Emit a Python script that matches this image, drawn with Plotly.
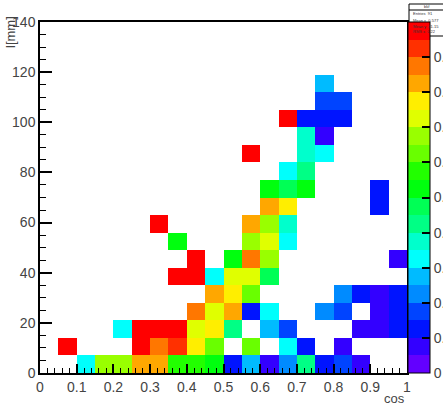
import colorsys
import numpy as np
import plotly.graph_objects as go

# ---------------- data ----------------
cos_bins = [0.025, 0.075, 0.125, 0.175, 0.225, 0.275, 0.325, 0.375, 0.425, 0.475,
            0.525, 0.575, 0.625, 0.675, 0.725, 0.775, 0.825, 0.875, 0.925, 0.975]
l_bins = [3.5, 10.5, 17.5, 24.5, 31.5, 38.5, 45.5, 52.5, 59.5, 66.5,
          73.5, 80.5, 87.5, 94.5, 101.5, 108.5, 115.5, 122.5, 129.5, 136.5]

cell_cos = [
    # l = 3.5
    0.125, 0.175, 0.225, 0.275, 0.325, 0.375, 0.425, 0.475, 0.525, 0.575, 0.625, 0.675, 0.725, 0.775, 0.825, 0.875,
    # l = 10.5
    0.075, 0.275, 0.325, 0.375, 0.425, 0.475, 0.575, 0.675, 0.725, 0.825,
    # l = 17.5
    0.225, 0.275, 0.325, 0.375, 0.425, 0.475, 0.525, 0.625, 0.675, 0.875, 0.925, 0.975,
    # l = 24.5
    0.425, 0.475, 0.525, 0.575, 0.625, 0.775, 0.825, 0.925, 0.975,
    # l = 31.5
    0.475, 0.525, 0.575, 0.825, 0.875, 0.925, 0.975,
    # l = 38.5
    0.375, 0.425, 0.475, 0.525, 0.575, 0.625,
    # l = 45.5
    0.425, 0.525, 0.575, 0.625, 0.975,
    # l = 52.5
    0.375, 0.575, 0.625, 0.675,
    # l = 59.5
    0.325, 0.575, 0.625, 0.675,
    # l = 66.5
    0.625, 0.675, 0.925,
    # l = 73.5
    0.625, 0.675, 0.725, 0.925,
    # l = 80.5
    0.675, 0.725,
    # l = 87.5
    0.575, 0.725, 0.775,
    # l = 94.5
    0.725, 0.775,
    # l = 101.5
    0.675, 0.725, 0.775, 0.825,
    # l = 108.5
    0.775, 0.825,
    # l = 115.5
    0.775,
]
cell_l = (
    [3.5] * 16 + [10.5] * 10 + [17.5] * 12 + [24.5] * 9 + [31.5] * 7 + [38.5] * 6
    + [45.5] * 5 + [52.5] * 4 + [59.5] * 4 + [66.5] * 3 + [73.5] * 4 + [80.5] * 2
    + [87.5] * 3 + [94.5] * 2 + [101.5] * 4 + [108.5] * 2 + [115.5] * 1
)
cell_val = [
    0.33, 0.68, 0.68, 0.83, 0.83, 0.58, 0.58, 0.53, 0.13, 0.28, 0.08, 0.23, 0.43, 0.13, 0.18, 0.08,
    0.98, 0.98, 0.88, 0.93, 0.78, 0.63, 0.63, 0.33, 0.13, 0.08,
    0.33, 0.98, 0.98, 0.98, 0.73, 0.78, 0.43, 0.28, 0.18, 0.08, 0.08, 0.13,
    0.88, 0.73, 0.83, 0.13, 0.33, 0.23, 0.18, 0.08, 0.13,
    0.83, 0.78, 0.63, 0.23, 0.13, 0.08, 0.13,
    0.98, 0.98, 0.33, 0.73, 0.73, 0.48,
    0.98, 0.53, 0.88, 0.68, 0.08,
    0.53, 0.68, 0.73, 0.33,
    0.98, 0.83, 0.68, 0.38,
    0.83, 0.78, 0.13,
    0.53, 0.48, 0.53, 0.13,
    0.33, 0.43,
    0.98, 0.38, 0.33,
    0.38, 0.08,
    0.98, 0.13, 0.13, 0.13,
    0.18, 0.18,
    0.28,
]

x_ticks = [0, 0.1, 0.2, 0.3, 0.4, 0.5, 0.6, 0.7, 0.8, 0.9, 1]
x_ticklabels = ["0", "0.1", "0.2", "0.3", "0.4", "0.5", "0.6", "0.7", "0.8", "0.9", "1"]
y_ticks = [0, 20, 40, 60, 80, 100, 120, 140]
# top palette label is hidden under the statistics box in the reference
z_ticks = [0, 0.1, 0.2, 0.3, 0.4, 0.5, 0.6, 0.7, 0.8, 0.9, 1]
z_ticklabels = ["0", "0.1", "0.2", "0.3", "0.4", "0.5", "0.6", "0.7", "0.8", "0.9", ""]
stat_lines = ["Entries  91", "Mean x  0.577", "Mean y  41.15", "RMS x  0.22"]

# ---------------- grid ----------------
cb = np.array(cos_bins)
lb = np.array(l_bins)
grid = [[None] * len(cos_bins) for _ in l_bins]
for c, l, v in zip(cell_cos, cell_l, cell_val):
    i = int(np.argmin(np.abs(cb - c)))
    j = int(np.argmin(np.abs(lb - l)))
    grid[j][i] = v

# ---------------- ROOT-like "pretty" palette, 20 contours ----------------
ncol, ncont = 50, 20
stops = []
for k in range(ncont):
    idx = int((k + 0.99) * ncol / ncont)
    hue = 280 - (idx + 1) * (280.0 / ncol)
    r, g, b = colorsys.hls_to_rgb(max(hue, 0) / 360.0, 0.5, 1.0)
    col = "rgb(%d,%d,%d)" % (round(r * 255), round(g * 255), round(b * 255))
    stops.append([k / ncont, col])
    stops.append([(k + 1) / ncont, col])

W, H = 443, 410
L, R, T, B = 40, 36, 22, 37
pw, ph = W - L - R, H - T - B
FONT = "Liberation Sans, Arial"

fig = go.Figure(go.Heatmap(
    x=cos_bins, y=l_bins, z=grid,
    zmin=0, zmax=1, colorscale=stops, hoverongaps=False,
    colorbar=dict(
        x=1 + 1.0 / pw, xanchor="left", xpad=0, ypad=0,
        y=0.5, yanchor="middle", len=1, lenmode="fraction",
        thickness=22, thicknessmode="pixels",
        outlinewidth=1, outlinecolor="black",
        ticks="inside", ticklen=8, tickwidth=1.5, tickcolor="black",
        tickvals=z_ticks, ticktext=z_ticklabels,
        tickfont=dict(family=FONT, size=14, color="#444"),
    ),
))

axis_common = dict(
    showgrid=False, zeroline=False, showline=True, linecolor="black",
    linewidth=1.5, mirror=True, ticks="inside", tickcolor="black",
    tickwidth=1.5, automargin=False,
    tickfont=dict(family=FONT, size=14, color="#444"),
)
fig.update_xaxes(range=[0, 1], tickvals=x_ticks, ticktext=x_ticklabels, ticklen=9,
                 minor=dict(dtick=0.02, ticklen=5, ticks="inside", tickcolor="black", tickwidth=1.2),
                 **axis_common)
fig.update_yaxes(range=[0, 140], tickvals=y_ticks, ticklen=12,
                 minor=dict(dtick=5, ticklen=6, ticks="inside", tickcolor="black", tickwidth=1.2),
                 **axis_common)

def px2x(px):
    return (px - L) / pw

def py2y(py):
    return (H - B - py) / ph

annotations = [
    dict(text="cos", x=px2x(407), y=py2y(398), xref="paper", yref="paper",
         xanchor="right", yanchor="middle",
         showarrow=False, font=dict(family=FONT, size=13, color="#444")),
    dict(text="l[mm]", x=px2x(11), y=py2y(14), xref="paper", yref="paper",
         xanchor="center", yanchor="top",
         textangle=-90, showarrow=False,
         font=dict(family=FONT, size=13, color="#444")),
]

# small statistics box (top right)
fig.add_shape(type="rect", xref="paper", yref="paper",
              x0=px2x(409), x1=px2x(445), y0=py2y(36), y1=py2y(4),
              fillcolor="white", line=dict(color="black", width=1), layer="above")
fig.add_shape(type="line", xref="paper", yref="paper",
              x0=px2x(409), x1=px2x(445), y0=py2y(10), y1=py2y(10),
              line=dict(color="black", width=1), layer="above")
for n, s in enumerate(stat_lines):
    annotations.append(dict(text=s, x=px2x(411), y=py2y(14 + 6 * n), xref="paper", yref="paper",
                            xanchor="left", yanchor="middle", showarrow=False,
                            font=dict(family=FONT, size=4, color="#333")))
annotations.append(dict(text="bkf", x=px2x(427), y=py2y(7), xref="paper", yref="paper",
                        xanchor="center", yanchor="middle",
                        showarrow=False, font=dict(family=FONT, size=4, color="#333")))

fig.update_layout(
    width=W, height=H, margin=dict(l=L, r=R, t=T, b=B, pad=0, autoexpand=False),
    paper_bgcolor="white", plot_bgcolor="white",
    annotations=annotations, showlegend=False,
)

fig.write_html(
    "out.html",
    config={"displayModeBar": False},
    post_script="document.body.style.margin='0';document.body.style.padding='0';"
                "document.body.style.overflow='hidden';",
)
